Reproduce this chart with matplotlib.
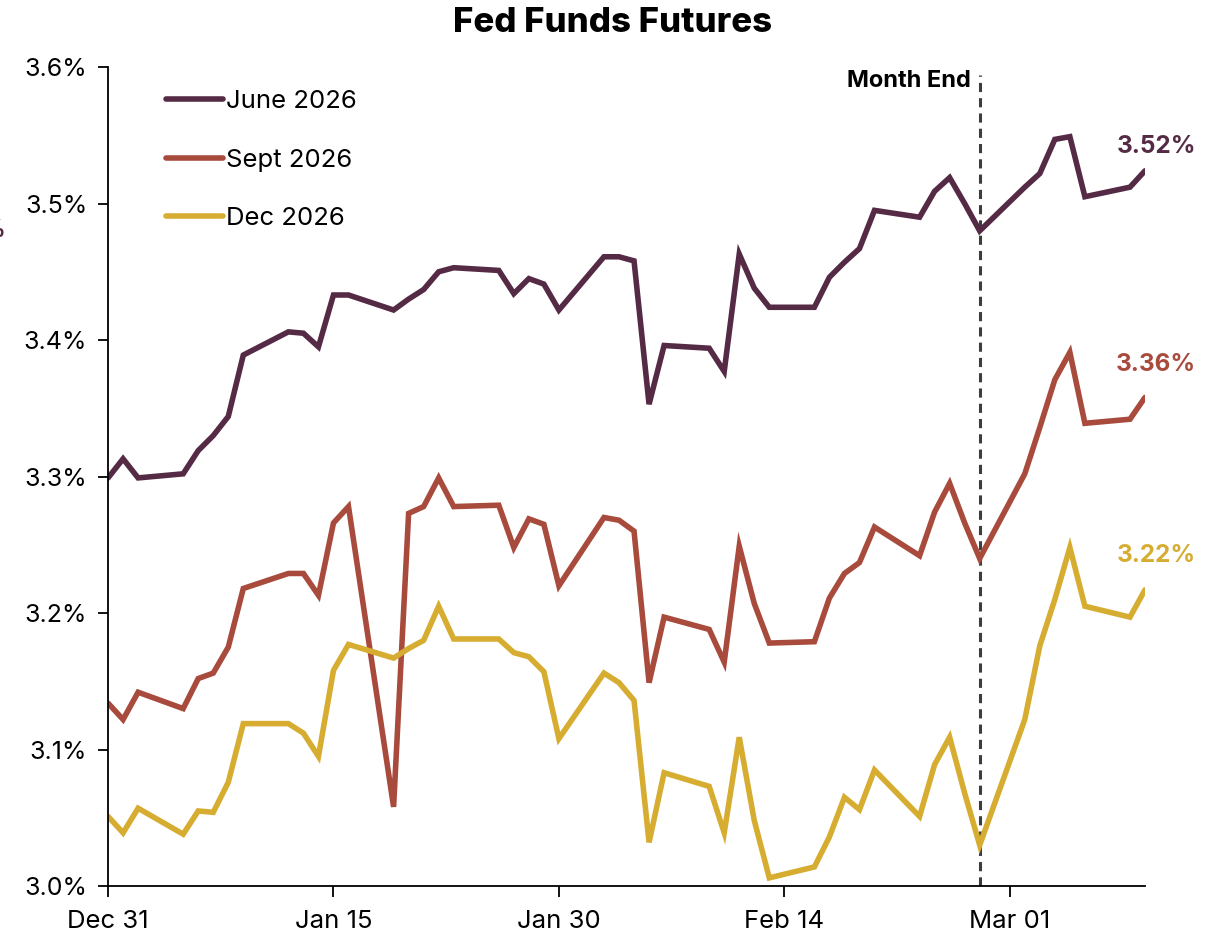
import matplotlib
matplotlib.use("Agg")
import matplotlib.pyplot as plt
import matplotlib.dates as mdates
import matplotlib.ticker as mticker
import pandas as pd

plt.rcParams["font.family"] = ["Inter", "DejaVu Sans"]

dates = pd.to_datetime([
    "2025-12-31", "2026-01-01", "2026-01-02", "2026-01-05", "2026-01-06", "2026-01-07",
    "2026-01-08", "2026-01-09", "2026-01-12", "2026-01-13", "2026-01-14", "2026-01-15",
    "2026-01-16", "2026-01-19", "2026-01-20", "2026-01-21", "2026-01-22", "2026-01-23",
    "2026-01-26", "2026-01-27", "2026-01-28", "2026-01-29", "2026-01-30", "2026-02-02",
    "2026-02-03", "2026-02-04", "2026-02-05", "2026-02-06", "2026-02-09", "2026-02-10",
    "2026-02-11", "2026-02-12", "2026-02-13", "2026-02-16", "2026-02-17", "2026-02-18",
    "2026-02-19", "2026-02-20", "2026-02-23", "2026-02-24", "2026-02-25", "2026-02-26",
    "2026-02-27", "2026-03-02", "2026-03-03", "2026-03-04", "2026-03-05", "2026-03-06",
    "2026-03-09", "2026-03-10",
])

june_2026 = [
    3.299, 3.313, 3.299, 3.302, 3.319, 3.330, 3.344, 3.389, 3.406, 3.405, 3.395, 3.433,
    3.433, 3.422, 3.430, 3.437, 3.450, 3.453, 3.451, 3.434, 3.445, 3.441, 3.422, 3.461,
    3.461, 3.458, 3.353, 3.396, 3.394, 3.377, 3.463, 3.438, 3.424, 3.424, 3.446, 3.457,
    3.467, 3.495, 3.490, 3.509, 3.519, 3.500, 3.480, 3.512, 3.522, 3.547, 3.549, 3.505,
    3.512, 3.524,
]
sept_2026 = [
    3.134, 3.122, 3.142, 3.130, 3.152, 3.156, 3.175, 3.218, 3.229, 3.229, 3.213, 3.266,
    3.278, 3.058, 3.273, 3.278, 3.299, 3.278, 3.279, 3.248, 3.269, 3.265, 3.220, 3.270,
    3.268, 3.260, 3.149, 3.197, 3.188, 3.164, 3.249, 3.207, 3.178, 3.179, 3.211, 3.229,
    3.237, 3.263, 3.242, 3.274, 3.295, 3.266, 3.240, 3.302, 3.336, 3.371, 3.391, 3.339,
    3.342, 3.358,
]
dec_2026 = [
    3.051, 3.039, 3.057, 3.038, 3.055, 3.054, 3.076, 3.119, 3.119, 3.112, 3.095, 3.158,
    3.177, 3.167, 3.174, 3.180, 3.205, 3.181, 3.181, 3.171, 3.168, 3.157, 3.108, 3.156,
    3.149, 3.136, 3.032, 3.083, 3.073, 3.039, 3.109, 3.048, 3.006, 3.014, 3.036, 3.065,
    3.056, 3.085, 3.051, 3.089, 3.109, 3.068, 3.030, 3.122, 3.176, 3.210, 3.248, 3.205,
    3.197, 3.217,
]

series = [
    ("June 2026", june_2026, "#552a45"),
    ("Sept 2026", sept_2026, "#a84a3c"),
    ("Dec 2026", dec_2026, "#d6ad30"),
]

month_end = pd.Timestamp("2026-02-27")
x_ticks = pd.to_datetime(["2025-12-31", "2026-01-15", "2026-01-30", "2026-02-14", "2026-03-01"])

fig = plt.figure(figsize=(12.25, 9.43), dpi=100)
ax = fig.add_axes([0.0882, 0.0604, 0.8465, 0.8685])

for name, values, color in series:
    ax.plot(dates, values, color=color, linewidth=4.0, label=name,
            solid_joinstyle="miter", solid_capstyle="round")
    last = values[-1]
    ax.text(dates[-1] + pd.Timedelta(days=0.75), round(last, 2) + 0.022, f"{last:.2f}%",
            color=color, fontsize=17.5, fontweight="bold", ha="center", va="center")

ax.axvline(month_end, ymin=0, ymax=0.99, color="#3d3d3d", linestyle=(0, (3, 2)),
           linewidth=2.2, zorder=0)
ax.text(month_end - pd.Timedelta(days=0.6), 3.59, "Month End", fontsize=17,
        fontweight="bold", ha="right", va="center")

ax.set_xlim(dates[0], dates[-1])
ax.set_ylim(3.0, 3.6)
ax.set_yticks([3.0, 3.1, 3.2, 3.3, 3.4, 3.5, 3.6])
ax.yaxis.set_major_formatter(mticker.FuncFormatter(lambda v, p: f"{v:.1f}%"))
ax.set_xticks(x_ticks)
ax.xaxis.set_major_formatter(mdates.DateFormatter("%b %d"))

ax.spines["top"].set_visible(False)
ax.spines["right"].set_visible(False)
ax.spines["left"].set_linewidth(1.3)
ax.spines["bottom"].set_linewidth(1.3)
ax.tick_params(axis="y", length=7, width=1.3, labelsize=18, pad=8)
ax.tick_params(axis="x", length=8, width=1.3, labelsize=18.5, pad=9)

leg = ax.legend(loc="upper left", bbox_to_anchor=(0.034, 1.0), frameon=False, fontsize=18.5,
                handlelength=2.2, handletextpad=0.1, labelspacing=1.38)
for line in leg.get_lines():
    line.set_solid_capstyle("round")

fig.text(0.5, 0.976, "Fed Funds Futures", fontsize=25, fontweight="heavy",
         ha="center", va="center")

# clipped label remnant on the far left edge
fig.text(0.0045, 0.756, "%", color="#552a45", fontsize=17.5, fontweight="bold",
         ha="right", va="center")

fig.savefig("out.png", dpi=100)
